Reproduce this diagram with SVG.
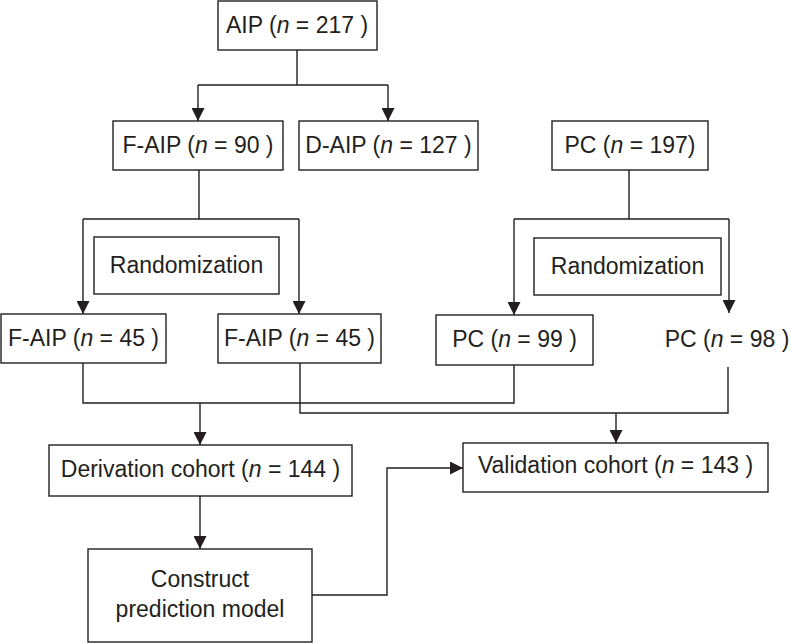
<svg xmlns="http://www.w3.org/2000/svg" width="791" height="643" viewBox="0 0 791 643">
<style>
.box{fill:#fff;stroke:#231f20;stroke-width:1.4}
.ln{fill:none;stroke:#231f20;stroke-width:1.4}
.ar{fill:none;stroke:#231f20;stroke-width:1.4;marker-end:url(#ah)}
text{font-family:"Liberation Sans",Arial,sans-serif;font-size:23px;fill:#231f20;text-anchor:middle}
.it{font-style:italic}
</style>
<defs>
<marker id="ah" markerUnits="userSpaceOnUse" markerWidth="13" markerHeight="13" refX="13" refY="6.5" orient="auto" viewBox="0 0 13 13">
<path d="M0,0 L13,6.5 L0,13 z" fill="#231f20"/>
</marker>
</defs>
<rect width="791" height="643" fill="#fff"/>
<g id="connectors">
<path class="ln" d="M297,50 V85 M198,85 H388"/>
<path class="ar" d="M198,85 V121"/>
<path class="ar" d="M388,85 V121"/>
<path class="ln" d="M199,170 V219 M83,219 H299"/>
<path class="ar" d="M83,219 V314"/>
<path class="ar" d="M299,219 V314"/>
<path class="ln" d="M629,170 V219 M514,219 H729"/>
<path class="ar" d="M514,219 V315"/>
<path class="ar" d="M729,219 V313"/>
<path class="ln" d="M83,363 V403 H514 V365"/>
<path class="ln" d="M300,363 V413 H728 V367"/>
<path class="ar" d="M616,413 V443"/>
<path class="ar" d="M200,403 V445"/>
<path class="ar" d="M200,496 V549"/>
<path class="ar" d="M312,595 H387 V468 H463"/>
</g>
<g id="aip"><rect class="box" x="218" y="1" width="159" height="49"/><text x="297" y="33">AIP (<tspan class="it">n</tspan> = 217 )</text></g>
<g id="faip90"><rect class="box" x="113" y="121" width="170" height="49"/><text x="198" y="153">F-AIP (<tspan class="it">n</tspan> = 90 )</text></g>
<g id="daip127"><rect class="box" x="299" y="121" width="179" height="49"/><text x="388.5" y="153">D-AIP (<tspan class="it">n</tspan> = 127 )</text></g>
<g id="pc197"><rect class="box" x="552" y="121" width="156" height="49"/><text x="630" y="153">PC (<tspan class="it">n</tspan> = 197)</text></g>
<g id="rand1"><rect class="box" x="94" y="237" width="185" height="57"/><text x="186.5" y="273">Randomization</text></g>
<g id="rand2"><rect class="box" x="534" y="238" width="187" height="57"/><text x="627.5" y="274">Randomization</text></g>
<g id="faip45a"><rect class="box" x="1" y="314" width="165" height="49"/><text x="83.5" y="346">F-AIP (<tspan class="it">n</tspan> = 45 )</text></g>
<g id="faip45b"><rect class="box" x="218" y="314" width="163" height="49"/><text x="299.5" y="346">F-AIP (<tspan class="it">n</tspan> = 45 )</text></g>
<g id="pc99"><rect class="box" x="436" y="315" width="157" height="50"/><text x="514.5" y="347">PC (<tspan class="it">n</tspan> = 99 )</text></g>
<g id="pc98"><text x="727" y="347">PC (<tspan class="it">n</tspan> = 98 )</text></g>
<g id="derivation"><rect class="box" x="49" y="445" width="303" height="51"/><text x="200.5" y="477">Derivation cohort (<tspan class="it">n</tspan> = 144 )</text></g>
<g id="construct"><rect class="box" x="88" y="549" width="224" height="93"/><text x="200" y="587">Construct</text><text x="200" y="617">prediction model</text></g>
<g id="validation"><rect class="box" x="463" y="443" width="305" height="49"/><text x="615.5" y="473">Validation cohort (<tspan class="it">n</tspan> = 143 )</text></g>
</svg>
